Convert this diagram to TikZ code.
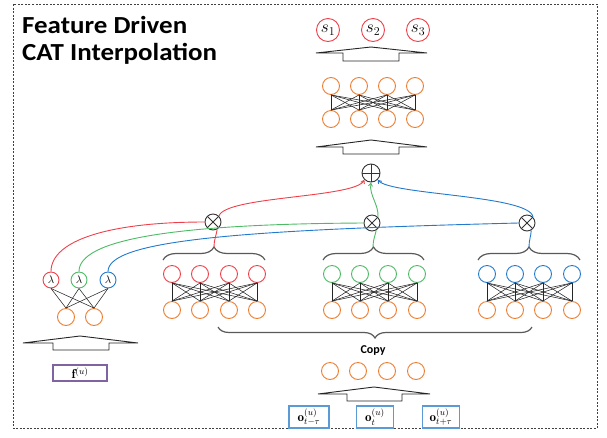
\documentclass[tikz,border=0pt]{standalone}
\usepackage{amsmath,amssymb}
\usepackage{fontspec}
\setsansfont{Carlito}
\newfontfamily\titlefont[FakeStretch=1.1]{Carlito}
\usepackage{xcolor}
\usepackage{tikz}
\usetikzlibrary{arrows.meta, positioning, calc, decorations.pathreplacing}

\definecolor{nnred}{RGB}{238,64,74}
\definecolor{nngreen}{RGB}{76,187,100}
\definecolor{nnblue}{RGB}{34,122,204}
\definecolor{nnorange}{RGB}{237,125,49}
\definecolor{boxblue}{RGB}{91,155,213}
\definecolor{boxpurple}{RGB}{128,100,162}

\begin{document}
\begin{tikzpicture}[x=1pt, y=-1pt,
  unit/.style={circle, draw, minimum size=17pt, inner sep=0pt, line width=0.9pt},
  hid/.style={unit, draw=nnorange},
  redu/.style={unit, draw=nnred},
  greenu/.style={unit, draw=nngreen},
  blueu/.style={unit, draw=nnblue},
  outu/.style={unit, draw=nnred, minimum size=23pt, font=\fontsize{18}{18}\selectfont},
  lam/.style={unit, minimum size=16pt, font=\fontsize{11}{11}\selectfont},
  mul/.style={circle, draw=black!80, minimum size=16pt, inner sep=0pt, line width=0.9pt,
    path picture={\draw[black!80, line width=0.9pt]
      (path picture bounding box.north west) -- (path picture bounding box.south east)
      (path picture bounding box.north east) -- (path picture bounding box.south west);}},
  add/.style={circle, draw=black!80, minimum size=18pt, inner sep=0pt, line width=0.9pt,
    path picture={\draw[black!80, line width=0.9pt]
      (path picture bounding box.north) -- (path picture bounding box.south)
      (path picture bounding box.east) -- (path picture bounding box.west);}},
  mesh/.style={black!85, line width=0.55pt},
  hollow/.style={draw=black!85, line width=0.9pt},
  brace/.style={decorate, decoration={brace, amplitude=13pt}, draw=black!65, line width=1.2pt},
  inbox/.style={draw=boxblue, line width=1.2pt, minimum height=22pt, inner sep=0.5pt, font=\fontsize{13}{13}\selectfont},
  tip/.style={-{Straight Barb[length=3pt, width=4pt]}},
  feed/.style={line width=0.9pt}
]
  \useasboundingbox (0,0) rectangle (607,437);
  \draw[black!75, line width=0.7pt, dash pattern=on 2pt off 1.5pt] (13,4) rectangle (597,428);

  % Title
  \node[anchor=base west, align=left, inner sep=0pt, font=\titlefont\bfseries\fontsize{24.5}{27}\selectfont]
    (title) at (22,60) {Feature Driven\\CAT Interpolation};

  % Output units
  \node[outu] (s1) at (328,30) {$s_1$};
  \node[outu] (s2) at (373,30) {$s_2$};
  \node[outu] (s3) at (418,30) {$s_3$};
  \draw[hollow] (316,53) -- (371,47) -- (427,53) -- (399,53) -- (399,61) -- (343,61) -- (343,53) -- cycle;

  % Top hidden layer
  \foreach \x [count=\i] in {331,359,387,415} {
    \node[hid] (ht\i) at (\x,86) {};
    \node[hid] (hb\i) at (\x,119) {};
  }
  \draw[hollow] (316,147) -- (371,140) -- (427,147) -- (399,147) -- (399,154) -- (343,154) -- (343,147) -- cycle;

  % Combination
  \node[add] (plus) at (371,173) {};
  \node[mul] (mulL) at (213,222) {};
  \node[mul] (mulM) at (372,223) {};
  \node[mul] (mulR) at (527,223) {};

  % Three CAT networks
  \foreach \x [count=\i] in {172,200,229,257} {
    \node[redu] (rt\i) at (\x,274) {};
    \node[hid]  (rb\i) at (\x,310) {};
  }
  \foreach \x [count=\i] in {332,360,388,417} {
    \node[greenu] (gt\i) at (\x,274) {};
    \node[hid]    (gb\i) at (\x,310) {};
  }
  \foreach \x [count=\i] in {487,515,543,572} {
    \node[blueu] (bt\i) at (\x,274) {};
    \node[hid]   (bb\i) at (\x,310) {};
  }
  \foreach \t/\b in {ht/hb, rt/rb, gt/gb, bt/bb}
    \foreach \i in {1,...,4}
      \foreach \j in {1,...,4}
        \draw[mesh] (\t\i.south) -- (\b\j.north);

  % Braces over the networks
  \coordinate (tipL) at (214,247);
  \coordinate (tipM) at (373,247);
  \coordinate (tipR) at (529,247);
  \draw[brace] (163,260) -- (265,260);
  \draw[brace] (323,260) -- (424,260);
  \draw[brace] (478,260) -- (580,260);

  % Feature branch
  \node[lam, draw=nnred]   (lamR) at (51,280)  {$\lambda$};
  \node[lam, draw=nngreen] (lamG) at (79,280)  {$\lambda$};
  \node[lam, draw=nnblue]  (lamB) at (108,280) {$\lambda$};
  \node[hid] (fa1) at (66,317) {};
  \node[hid] (fa2) at (94,317) {};
  \foreach \l in {lamR, lamG, lamB}
    \foreach \f in {fa1, fa2}
      \draw[mesh] (\l.south) -- (\f.north);
  \draw[hollow] (23,343) -- (80,336) -- (138,343) -- (109,343) -- (109,350) -- (53,350) -- (53,343) -- cycle;
  \node[draw=boxpurple, line width=1.1pt, minimum width=54pt, minimum height=16pt, inner sep=0.5pt,
    font=\fontsize{13}{13}\selectfont] (fbox) at (80,373) {$\mathbf{f}^{(u)}$};

  % Weights to the products
  \draw[feed, nnred]   (lamR.north) .. controls (51,240) and (110,222) .. (mulL.west);
  \draw[feed, nngreen] (lamG.north) .. controls (79,240) and (170,224) .. (mulM.west);
  \draw[feed, nnblue]  (lamB.north) .. controls (108,240) and (240,230) .. (mulR.west);

  % Networks to the products
  \draw[feed, nnred]   (mulL.-60) .. controls (216,236) and (214,240) .. (tipL);
  \draw[feed, nngreen] (mulM.-60) .. controls (375,236) and (373,240) .. (tipM);
  \draw[feed, nnblue]  (mulR.-60) .. controls (531,236) and (529,240) .. (tipR);

  % Products to the sum
  \draw[feed, nnred, tip]   (mulL.north east) .. controls (225,196) and (355,198) .. (plus.south west);
  \draw[feed, nngreen, tip] (mulM.north east) .. controls (379,205) and (369,195) .. (plus.south);
  \draw[feed, nnblue, tip]  (mulR.north east) .. controls (530,195) and (390,195) .. (plus.south east);

  % Copy of the observations
  \draw[brace, decoration={amplitude=11pt}] (532,327) -- (218,327);
  \node[font=\sffamily\bfseries\fontsize{12}{12}\selectfont] (copy) at (373,351) {Copy};
  \foreach \x [count=\i] in {330,358,387,416}
    \node[hid] (c\i) at (\x,371) {};
  \draw[hollow] (318,394) -- (374,387) -- (430,394) -- (402,394) -- (402,401) -- (347,401) -- (347,394) -- cycle;
  \node[inbox, minimum width=40pt] (oprev) at (309,417) {$\mathbf{o}_{t-\tau}^{(u)}$};
  \node[inbox, minimum width=37pt] (ocur)  at (375,417) {$\mathbf{o}_{t}^{(u)}$};
  \node[inbox, minimum width=37pt] (onext) at (441,417) {$\mathbf{o}_{t+\tau}^{(u)}$};
\end{tikzpicture}
\end{document}
